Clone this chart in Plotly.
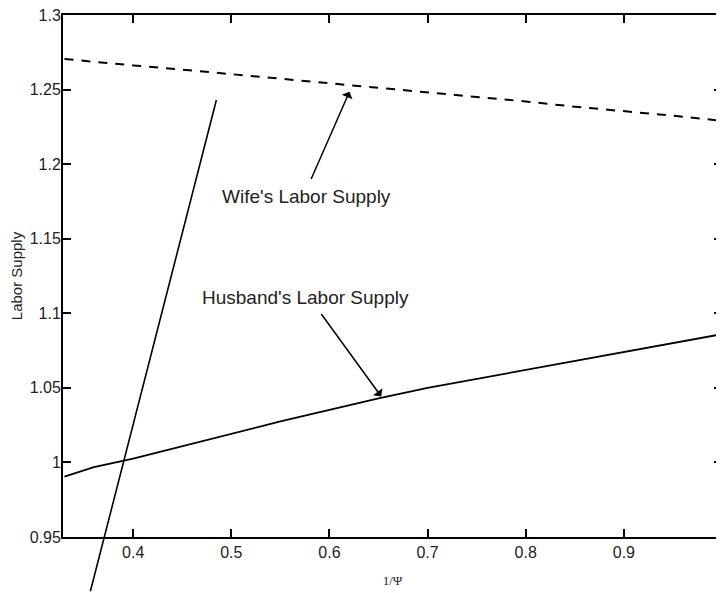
import plotly.graph_objects as go

# ---- data ----
inv_psi = [0.33, 0.36, 0.40, 0.45, 0.50, 0.55, 0.60, 0.65, 0.70, 0.75, 0.80, 0.85, 0.90, 0.95, 1.00]
wife_supply = [1.2705, 1.2685, 1.2662, 1.2634, 1.2604, 1.2574, 1.2540, 1.2510, 1.2482, 1.2452,
               1.2420, 1.2385, 1.2356, 1.2325, 1.2290]
husband_supply = [0.9905, 0.9968, 1.0025, 1.0110, 1.0192, 1.0275, 1.0353, 1.0430, 1.0500, 1.0560,
                  1.0617, 1.0680, 1.0740, 1.0800, 1.0860]
steep_x = [0.356, 0.4848]
steep_y = [0.9126, 1.243]

x_tickvals = [0.4, 0.5, 0.6, 0.7, 0.8, 0.9, 1.0]
x_ticktext = ["0.4", "0.5", "0.6", "0.7", "0.8", "0.9", "1"]
y_tickvals = [0.95, 1.0, 1.05, 1.1, 1.15, 1.2, 1.25, 1.3]
y_ticktext = ["0.95", "1", "1.05", "1.1", "1.15", "1.2", "1.25", "1.3"]

wife_label = "Wife's Labor Supply"
husband_label = "Husband's Labor Supply"

fig = go.Figure()
fig.add_trace(go.Scatter(x=inv_psi, y=wife_supply, mode="lines",
                         line=dict(color="black", width=2, dash="9px,8px"),
                         showlegend=False))
fig.add_trace(go.Scatter(x=inv_psi, y=husband_supply, mode="lines",
                         line=dict(color="black", width=1.8),
                         showlegend=False))

# steep straight line extending below the axis (annotation arrows are not clipped)
fig.add_annotation(x=steep_x[1], y=steep_y[1], ax=steep_x[0], ay=steep_y[0],
                   xref="x", yref="y", axref="x", ayref="y", text="",
                   showarrow=True, arrowhead=0, arrowwidth=1.6, arrowcolor="black")

# labels and arrows
fig.add_annotation(x=0.5763, y=1.1782, xref="x", yref="y", text=wife_label, showarrow=False,
                   font=dict(family="Liberation Sans, Arial", size=19, color="#222"))
fig.add_annotation(x=0.6204, y=1.2486, ax=0.5807, ay=1.189, xref="x", yref="y",
                   axref="x", ayref="y", text="", showarrow=True, arrowhead=1,
                   arrowsize=1.3, arrowwidth=1.5, arrowcolor="black")
fig.add_annotation(x=0.5751, y=1.1105, xref="x", yref="y", text=husband_label, showarrow=False,
                   font=dict(family="Liberation Sans, Arial", size=19, color="#222"))
fig.add_annotation(x=0.6527, y=1.0442, ax=0.5906, ay=1.1005, xref="x", yref="y",
                   axref="x", ayref="y", text="", showarrow=True, arrowhead=1,
                   arrowsize=1.3, arrowwidth=1.5, arrowcolor="black")

axis_common = dict(showgrid=False, zeroline=False, showline=True, linecolor="black",
                   linewidth=2, mirror="allticks", ticks="inside", ticklen=8,
                   tickwidth=2, tickcolor="black", ticklabeloverflow="allow",
                   tickfont=dict(family="Liberation Sans, Arial", size=16, color="#222"))

fig.update_layout(
    width=724, height=593,
    margin=dict(l=55, r=10, t=7, b=64),
    paper_bgcolor="white", plot_bgcolor="white",
    xaxis=dict(range=[0.3285, 1.0], tickvals=x_tickvals, ticktext=x_ticktext,
               title=dict(text="1/Ψ", font=dict(family="Liberation Serif, Times New Roman",
                                                   size=13, color="#222"), standoff=16),
               automargin=False, **axis_common),
    yaxis=dict(range=[0.95, 1.3], tickvals=y_tickvals, ticktext=y_ticktext,
               ticklabelstandoff=-3,
               title=dict(text="Labor Supply", font=dict(family="Liberation Sans, Arial",
                                                          size=15, color="#222"), standoff=6),
               automargin=False, **axis_common),
)

fig.write_html("out.html")
